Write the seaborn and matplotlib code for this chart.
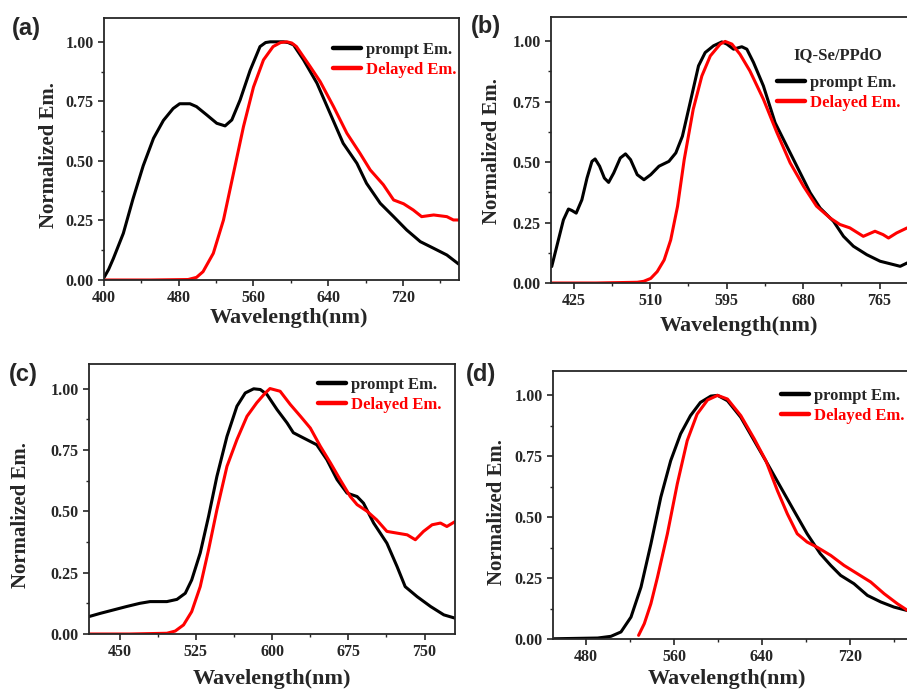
import numpy as np
import pandas as pd
import matplotlib
matplotlib.use('Agg')
import matplotlib.pyplot as plt
import seaborn as sns
from matplotlib.ticker import MultipleLocator

# ---- panel (a) ----
a_prompt_x = [400, 405, 410, 420.7, 431, 442, 453, 463.6, 474, 481, 492, 499, 510, 520.7, 529.6,
              536.8, 545.7, 556.4, 567, 573, 578, 592, 597, 602.9, 613.6, 628, 642, 656, 670.7,
              681, 695.7, 710, 724, 738.6, 752.9, 767, 779.6]
a_prompt_y = [0.01, 0.045, 0.09, 0.196, 0.34, 0.48, 0.595, 0.67, 0.72, 0.74, 0.74, 0.728, 0.693,
              0.658, 0.647, 0.672, 0.756, 0.88, 0.98, 0.997, 1.0, 1.0, 0.997, 0.987, 0.924, 0.826,
              0.70, 0.574, 0.49, 0.406, 0.322, 0.266, 0.21, 0.161, 0.133, 0.105, 0.067]
a_delay_x = [400, 450, 490, 499, 506, 517, 527.9, 538.6, 549.3, 560, 570.7, 581, 589, 595.7, 601,
             606, 620.7, 631.4, 645.7, 660, 674, 685, 699, 710, 720.7, 731, 740, 752.9, 767, 774,
             780]
a_delay_y = [0.0, 0.0, 0.002, 0.011, 0.035, 0.112, 0.252, 0.448, 0.644, 0.81, 0.924, 0.98, 0.997,
             1.0, 0.995, 0.98, 0.896, 0.833, 0.728, 0.616, 0.532, 0.462, 0.40, 0.336, 0.32, 0.294,
             0.266, 0.273, 0.266, 0.252, 0.252]

# ---- panel (b) ----
b_prompt_x = [400.8, 408.2, 413.8, 419.4, 423.1, 428, 434.3, 440, 445.5, 449, 454, 459.3, 464,
              469.7, 477, 482.8, 488.4, 495.8, 503.3, 510.8, 520, 531, 538.7, 546, 554.6, 563.9,
              571.3, 580.6, 589.8, 595.4, 602.8, 612, 617.6, 625, 636, 649, 662, 676.8, 688, 699,
              713.9, 725, 736, 750.9, 765.7, 780.6, 788, 795.8]
b_prompt_y = [0.068, 0.178, 0.261, 0.306, 0.30, 0.289, 0.344, 0.434, 0.503, 0.513, 0.483, 0.434,
              0.416, 0.455, 0.517, 0.534, 0.51, 0.448, 0.427, 0.448, 0.483, 0.503, 0.538, 0.607,
              0.746, 0.898, 0.953, 0.981, 0.997, 0.988, 0.967, 0.977, 0.967, 0.912, 0.815, 0.663,
              0.566, 0.456, 0.373, 0.31, 0.255, 0.193, 0.152, 0.117, 0.09, 0.076, 0.069, 0.083]
b_delay_x = [400, 450, 495.8, 503, 510.8, 518, 525.7, 533, 540.6, 548, 558, 567.6, 577, 588,
             593.5, 601, 610, 621, 636, 651, 665.7, 680.6, 695, 710, 721, 732, 747, 760, 769, 775,
             784, 795.8]
b_delay_y = [0.0, 0.0, 0.003, 0.007, 0.019, 0.047, 0.095, 0.178, 0.317, 0.51, 0.718, 0.856, 0.939,
             0.988, 0.999, 0.988, 0.946, 0.877, 0.76, 0.622, 0.497, 0.40, 0.318, 0.269, 0.242,
             0.228, 0.193, 0.214, 0.20, 0.186, 0.207, 0.228]

# ---- panel (c) ----
c_prompt_x = [420, 431, 444, 457, 470, 480, 496.6, 506.5, 514.7, 521, 529.4, 537.6, 545.8, 555.7,
              565.5, 573.7, 582, 588.5, 595, 605, 614.8, 621, 628, 644, 654, 664, 673.8, 683.7,
              690, 700, 713, 723, 731, 742.8, 756, 769, 780.5]
c_prompt_y = [0.071, 0.084, 0.098, 0.112, 0.125, 0.132, 0.132, 0.141, 0.166, 0.22, 0.33, 0.479,
              0.642, 0.805, 0.928, 0.982, 0.999, 0.996, 0.976, 0.914, 0.86, 0.82, 0.805, 0.771,
              0.71, 0.629, 0.574, 0.56, 0.533, 0.452, 0.37, 0.275, 0.193, 0.152, 0.112, 0.078,
              0.064]
c_delay_x = [420, 460, 496.6, 504.8, 513, 521, 529.4, 537.6, 545.8, 555.7, 565.5, 575.4, 585,
             593.4, 598, 608, 618, 628, 637.7, 647.5, 657.5, 667, 677, 683.7, 693.5, 703, 713,
             723, 733, 741, 749, 757.5, 765.7, 772, 780.5]
c_delay_y = [0.0, 0.0, 0.003, 0.012, 0.037, 0.091, 0.193, 0.343, 0.506, 0.683, 0.792, 0.887,
             0.942, 0.982, 1.0, 0.989, 0.935, 0.887, 0.839, 0.765, 0.697, 0.629, 0.56, 0.527,
             0.50, 0.465, 0.418, 0.411, 0.404, 0.384, 0.418, 0.445, 0.452, 0.438, 0.459]

# ---- panel (d) ----
d_prompt_x = [451, 490.6, 502.7, 511.8, 520.9, 530, 539, 548, 557, 566, 575, 584, 593.5, 599.6,
              608.6, 620.7, 632.9, 645, 657, 669, 681, 693, 702.5, 711.5, 723.6, 735.8, 748, 760,
              772]
d_prompt_y = [0.001, 0.004, 0.011, 0.029, 0.09, 0.213, 0.39, 0.582, 0.732, 0.842, 0.917, 0.971,
              0.997, 1.0, 0.978, 0.91, 0.814, 0.719, 0.623, 0.527, 0.432, 0.35, 0.302, 0.261,
              0.227, 0.179, 0.152, 0.131, 0.117]
d_delay_x = [527.8, 533, 539, 545, 554, 563, 572, 581, 590.5, 599.6, 608.6, 620.7, 633, 643.5,
             654, 663, 672, 681, 690, 702.5, 714.6, 726.7, 738.8, 751, 763, 772.4]
d_delay_y = [0.015, 0.063, 0.145, 0.254, 0.432, 0.637, 0.814, 0.923, 0.981, 1.0, 0.985, 0.917,
             0.821, 0.732, 0.609, 0.514, 0.432, 0.398, 0.377, 0.343, 0.302, 0.268, 0.234, 0.186,
             0.145, 0.117]

sns.set_theme(style='ticks')
plt.rcParams['font.family'] = ['Liberation Serif', 'DejaVu Serif']
plt.rcParams['font.weight'] = 'bold'
plt.rcParams['axes.labelweight'] = 'bold'
plt.rcParams['axes.linewidth'] = 1.3
plt.rcParams['xtick.direction'] = 'out'
plt.rcParams['ytick.direction'] = 'out'

fig = plt.figure(figsize=(9.07, 6.91), dpi=100)
W, H = 907, 691

# axes rect in px (left, top, w, h), xlim, tick step, first tick, legend anchor px,
# panel label px, xlabel centre px, ylabel centre px
panels = [
    ('(a)', [104, 18, 355, 262], (400, 780), 80, 400, (a_prompt_x, a_prompt_y),
     (a_delay_x, a_delay_y), (333, 42), (12, 28), (289, 318), (49, 155)),
    ('(b)', [551, 17, 360, 266], (400, 800), 85, 425, (b_prompt_x, b_prompt_y),
     (b_delay_x, b_delay_y), (777, 75), (471, 27), (739, 326), (492, 151)),
    ('(c)', [89, 364, 366, 270], (420, 780), 75, 450, (c_prompt_x, c_prompt_y),
     (c_delay_x, c_delay_y), (318, 377), (9, 375), (272, 679), (21, 515)),
    ('(d)', [553, 371, 363, 268], (450, 780), 80, 480, (d_prompt_x, d_prompt_y),
     (d_delay_x, d_delay_y), (781, 388), (466, 375), (727, 679), (497, 512)),
]

for lab, r, xlim, xstep, xfirst, pr, de, leg_xy, lab_xy, xl_xy, yl_xy in panels:
    left, top, w, h = r
    ax = fig.add_axes([left / W, 1 - (top + h) / H, w / W, h / H])
    sns.lineplot(x=pr[0], y=pr[1], ax=ax, color='black', lw=2.2, label='prompt Em.',
                 errorbar=None, sort=False)
    sns.lineplot(x=de[0], y=de[1], ax=ax, color='#ff0000', lw=2.2, label='Delayed Em.',
                 errorbar=None, sort=False)
    ax.set_xlim(*xlim)
    ax.set_ylim(0, 1.1)
    ax.set_xticks(np.arange(xfirst, xlim[1] + 0.1, xstep))
    ax.xaxis.set_minor_locator(MultipleLocator(xstep / 2))
    ax.set_yticks([0, 0.25, 0.5, 0.75, 1.0])
    ax.set_yticklabels(['0.00', '0.25', '0.50', '0.75', '1.00'])
    ax.yaxis.set_minor_locator(MultipleLocator(0.125))
    ax.tick_params(which='major', length=4.5, width=1.2, labelsize=11.5, pad=3)
    ax.tick_params(which='minor', length=2.5, width=1.0)
    for t in ax.get_xticklabels() + ax.get_yticklabels():
        t.set_fontweight('bold')

    ax.set_xlabel('Wavelength(nm)', fontsize=16, fontweight='bold')
    ax.set_ylabel('Normalized Em.', fontsize=15, fontweight='bold')
    ax.xaxis.set_label_coords((xl_xy[0] - left) / w, (top + h - xl_xy[1]) / h)
    ax.xaxis.label.set_va('center')
    ax.yaxis.set_label_coords((yl_xy[0] - left) / w, (top + h - yl_xy[1]) / h)
    ax.yaxis.label.set_va('center')

    leg = ax.legend(loc='upper left', bbox_to_anchor=(leg_xy[0] / W, 1 - leg_xy[1] / H),
                    bbox_transform=fig.transFigure, frameon=False,
                    prop={'size': 12, 'weight': 'bold'}, handlelength=1.7,
                    handletextpad=0.3, labelspacing=0.25, borderpad=0, borderaxespad=0)
    for line in leg.get_lines():
        line.set_linewidth(3.2)
    leg.get_texts()[1].set_color('#ff0000')

    fig.text(lab_xy[0] / W, 1 - lab_xy[1] / H, lab, fontsize=17, fontweight='bold',
             family=['Liberation Sans', 'DejaVu Sans'], va='center', ha='left')

# legend title of panel (b)
fig.text(838 / W, 1 - 55 / H, 'IQ-Se/PPdO', fontsize=12, fontweight='bold',
         ha='center', va='center')

fig.savefig('out.png', dpi=100)
